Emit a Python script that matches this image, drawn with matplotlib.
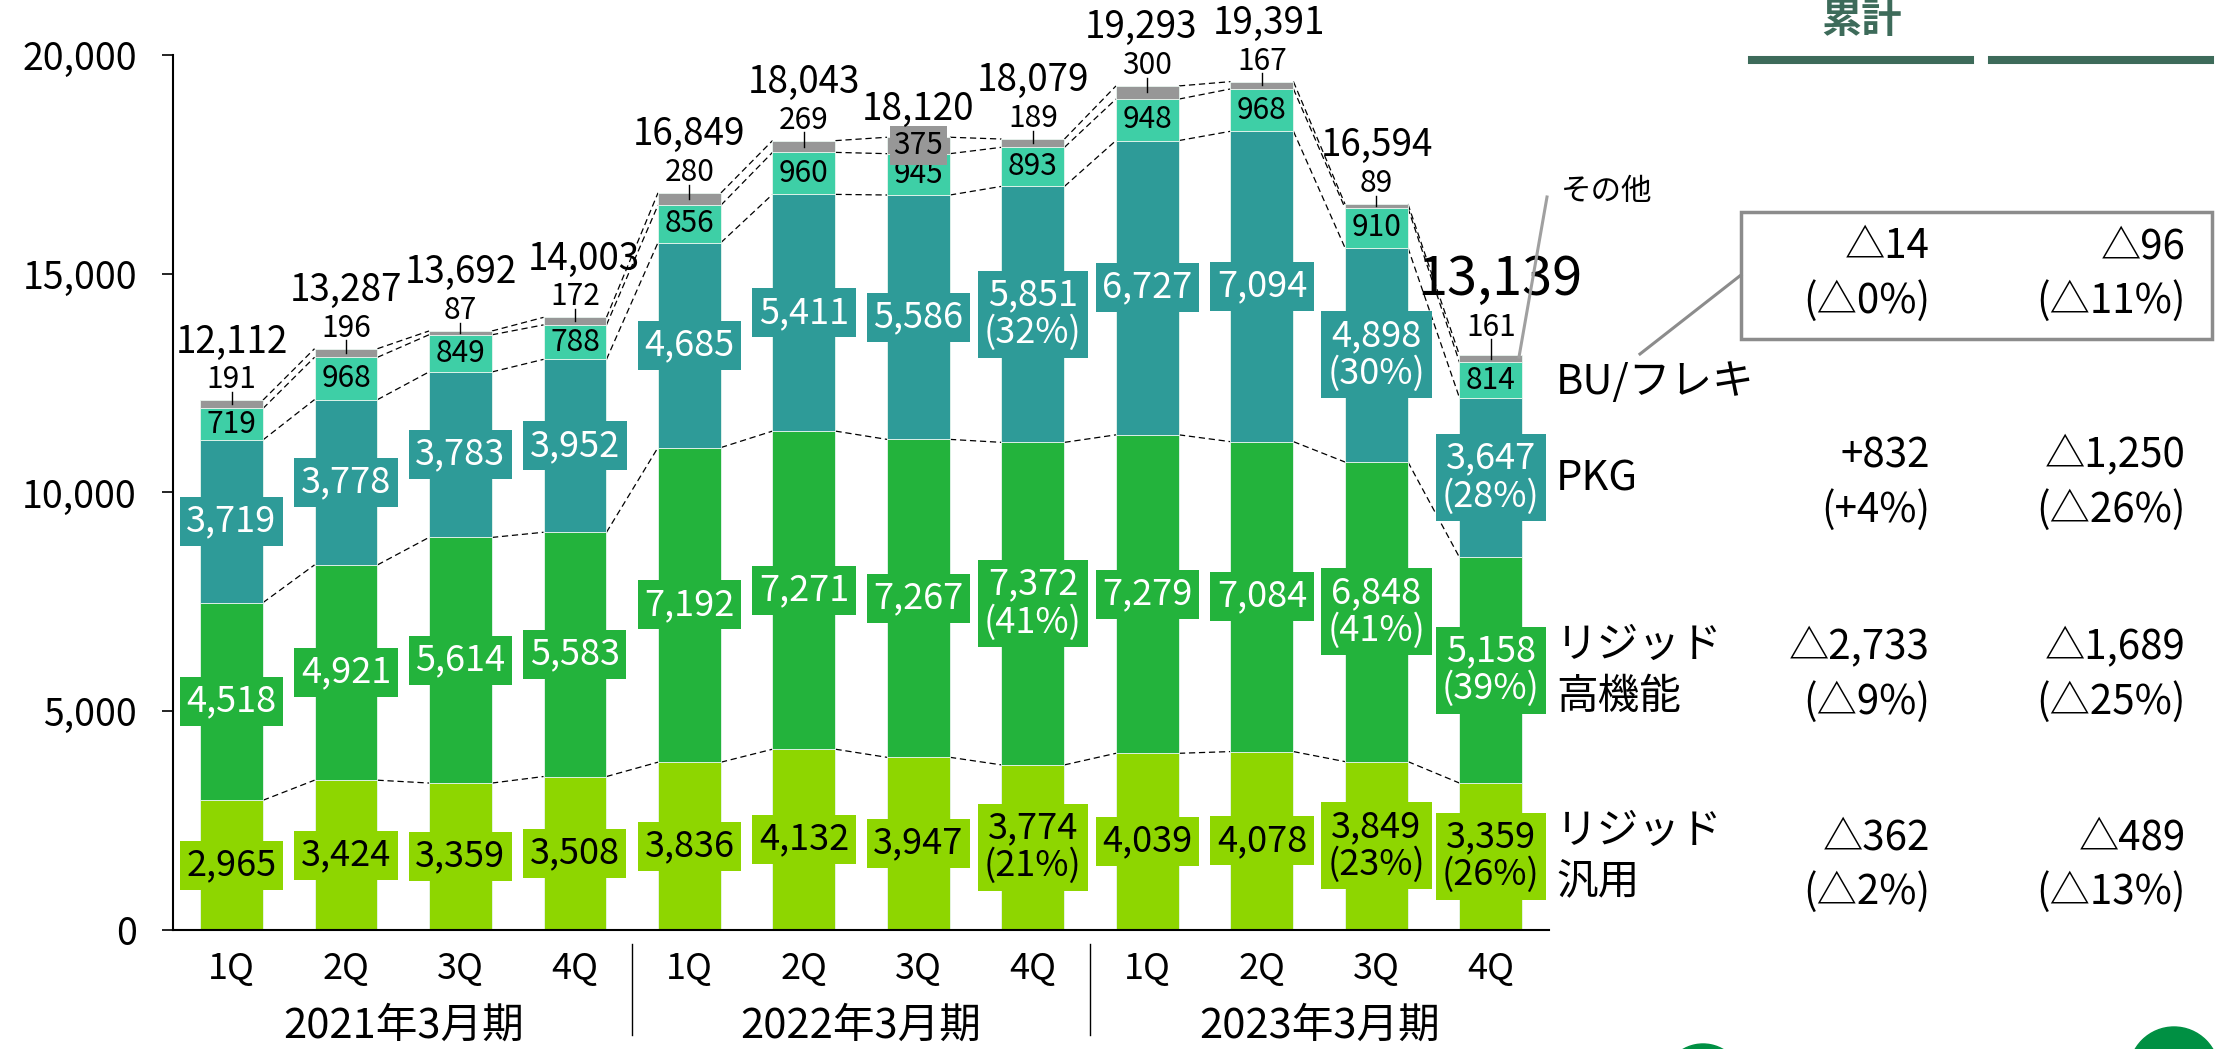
import numpy as np
import matplotlib.pyplot as plt
from matplotlib.patches import Rectangle, Circle
from matplotlib.lines import Line2D
from matplotlib.ticker import FuncFormatter
from matplotlib.transforms import IdentityTransform

plt.rcParams['font.family'] = ['Noto Sans CJK JP', 'DejaVu Sans']

# data
years = ['2021年3月期', '2022年3月期', '2023年3月期']
quarters = ['1Q', '2Q', '3Q', '4Q'] * 3

rigid_general = [2965, 3424, 3359, 3508, 3836, 4132, 3947, 3774, 4039, 4078, 3849, 3359]
rigid_high = [4518, 4921, 5614, 5583, 7192, 7271, 7267, 7372, 7279, 7084, 6848, 5158]
pkg = [3719, 3778, 3783, 3952, 4685, 5411, 5586, 5851, 6727, 7094, 4898, 3647]
bu_flex = [719, 968, 849, 788, 856, 960, 945, 893, 948, 968, 910, 814]
other = [191, 196, 87, 172, 280, 269, 375, 189, 300, 167, 89, 161]
totals = [12112, 13287, 13692, 14003, 16849, 18043, 18120, 18079, 19293, 19391, 16594, 13139]
pct_bars = [7, 10, 11]

seg_names = [['BU/フレキ'], ['PKG'], ['リジッド', '高機能'], ['リジッド', '汎用']]
diff_q = ['△14', '+832', '△2,733', '△362']
diff_q_pct = ['(△0%)', '(+4%)', '(△9%)', '(△2%)']
diff_cum = ['△96', '△1,250', '△1,689', '△489']
diff_cum_pct = ['(△11%)', '(△26%)', '(△25%)', '(△13%)']

c_gen = '#8ed600'
c_high = '#23b33c'
c_pkg = '#2e9b98'
c_bu = '#3ecfa6'
c_oth = '#979797'
c_dark = '#3d6b5a'

W, H = 2216, 1049


def fx(p):
    return p / W


def fy(p):
    return 1 - p / H


fig = plt.figure(figsize=(W / 100, H / 100), dpi=100)
ax = fig.add_axes([173 / W, (H - 930) / H, (1549 - 173) / W, 875 / H])

x = np.arange(12)
w = 0.55
series = [rigid_general, rigid_high, pkg, bu_flex, other]
colors = [c_gen, c_high, c_pkg, c_bu, c_oth]
bottom = np.zeros(12)
bottoms = []
tops = []
for vals, c in zip(series, colors):
    ax.bar(x, vals, w, bottom=bottom, color=c, edgecolor='#e8f5ee', linewidth=0.6, zorder=2)
    bottoms.append(bottom.copy())
    bottom = bottom + np.array(vals)
    tops.append(bottom.copy())

# dashed connectors between neighbouring bars
for k in range(5):
    for i in range(11):
        ax.plot([x[i] + w / 2, x[i + 1] - w / 2], [tops[k][i], tops[k][i + 1]],
                color='black', lw=0.9, ls=(0, (5, 3)), zorder=1)

# boxed labels for the three main segments
for k, (vals, c, tc) in enumerate([(rigid_general, c_gen, 'black'),
                                   (rigid_high, c_high, 'white'),
                                   (pkg, c_pkg, 'white')]):
    for i, v in enumerate(vals):
        s = f'{v:,}'
        if i in pct_bars:
            s += f'\n({int(v / totals[i] * 100 + 0.5)}%)'
        ax.text(x[i], bottoms[k][i] + v / 2, s, ha='center', va='center',
                fontsize=26, color=tc, linespacing=1.05, zorder=5,
                bbox=dict(boxstyle='square,pad=0.18', fc=c, ec='none'))

# BU/flex labels
for i, v in enumerate(bu_flex):
    ax.text(x[i], bottoms[3][i] + v / 2, f'{v}', ha='center', va='center',
            fontsize=21.5, color='black', zorder=5)

# other labels
for i, v in enumerate(other):
    if i == 6:
        ax.text(x[i], bottoms[4][i] + v / 2, f'{v}', ha='center', va='center',
                fontsize=21.5, color='black', zorder=6,
                bbox=dict(boxstyle='square,pad=0.12', fc=c_oth, ec='none'))
        continue
    off = 640 if i == 11 else 470
    ax.plot([x[i], x[i]], [totals[i] - v / 2, totals[i] + off - 280], color='black',
            lw=1.0, zorder=6, clip_on=False)
    ax.text(x[i], totals[i] + off, f'{v}', ha='center', va='center',
            fontsize=21.5, color='black', zorder=6, clip_on=False)

# totals (a few nudged sideways as in the original slide)
nudge = {3: 0.08, 8: -0.06, 9: 0.06, 11: 0.08}
for i, t in enumerate(totals):
    dx = nudge.get(i, 0)
    if i == 11:
        ax.text(x[i] + dx, t + 1740, f'{t:,}', ha='center', va='center',
                fontsize=39, color='black', zorder=6, clip_on=False)
        continue
    off = 640 if i == 6 else 1330
    ax.text(x[i] + dx, t + off, f'{t:,}', ha='center', va='center',
            fontsize=26.5, color='black', zorder=6, clip_on=False)

ax.set_xlim(-0.511, 11.507)
ax.set_ylim(0, 20000)
ax.set_xticks(x)
ax.set_xticklabels(quarters)
ax.set_yticks([0, 5000, 10000, 15000, 20000])
ax.yaxis.set_major_formatter(FuncFormatter(lambda v, p: f'{int(v):,}'))
ax.tick_params(axis='y', length=8, width=1.2, pad=18, labelsize=27)
ax.tick_params(axis='x', length=0, pad=15, labelsize=26)
for s in ['top', 'right']:
    ax.spines[s].set_visible(False)
for s in ['left', 'bottom']:
    ax.spines[s].set_linewidth(1.5)

# year labels and separators
trans = ax.get_xaxis_transform()
for g, yr in enumerate(years):
    ax.text(g * 4 + 1.5, -0.11, yr, transform=trans, ha='center', va='center',
            fontsize=30, color='black')
for sx in [3.5, 7.5]:
    ax.plot([sx, sx], [-0.016, -0.12], transform=trans, color='black', lw=1.0, clip_on=False)

# right side legend labels
name_rows = [[383], [479], [645, 697], [831, 883]]
for names, ys in zip(seg_names, name_rows):
    for n, yy in zip(names, ys):
        fig.text(fx(1556), fy(yy), n, ha='left', va='center', fontsize=30, color='black')

value_rows = [247, 456, 648, 838]
for r, yy in enumerate(value_rows):
    fig.text(fx(1930), fy(yy), diff_q[r], ha='right', va='center', fontsize=29)
    fig.text(fx(1930), fy(yy + 54), diff_q_pct[r], ha='right', va='center', fontsize=29)
    fig.text(fx(2186), fy(yy), diff_cum[r], ha='right', va='center', fontsize=29)
    fig.text(fx(2186), fy(yy + 54), diff_cum_pct[r], ha='right', va='center', fontsize=29)

# header
fig.text(fx(1862), fy(20), '累計', ha='center', va='center', fontsize=29,
         fontweight='bold', color=c_dark)
for x0, x1 in [(1752, 1970), (1992, 2210)]:
    fig.add_artist(Line2D([fx(x0), fx(x1)], [fy(60), fy(60)], color=c_dark, lw=5.8))

# callout box for BU/flex
fig.add_artist(Rectangle((fx(1741), fy(339)), fx(2212) - fx(1741), fy(212) - fy(339),
                         fill=False, ec='#8c8c8c', lw=2.5))
fig.add_artist(Line2D([fx(1741), fx(1640)], [fy(275), fy(354)], color='#8c8c8c', lw=2.2))

# "other" callout
fig.add_artist(Line2D([fx(1547), fx(1519)], [fy(197), fy(357)], color='#a0a0a0', lw=2.2))
fig.text(fx(1561), fy(192), 'その他', ha='left', va='center', fontsize=22, color='black')

# decorative circles at the bottom edge
fig.add_artist(Circle((1703, H - 1084), 40, color='#009043', transform=IdentityTransform()))
fig.add_artist(Circle((2174, H - 1072), 45, color='#009043', transform=IdentityTransform()))

fig.savefig('out.png', dpi=100)
